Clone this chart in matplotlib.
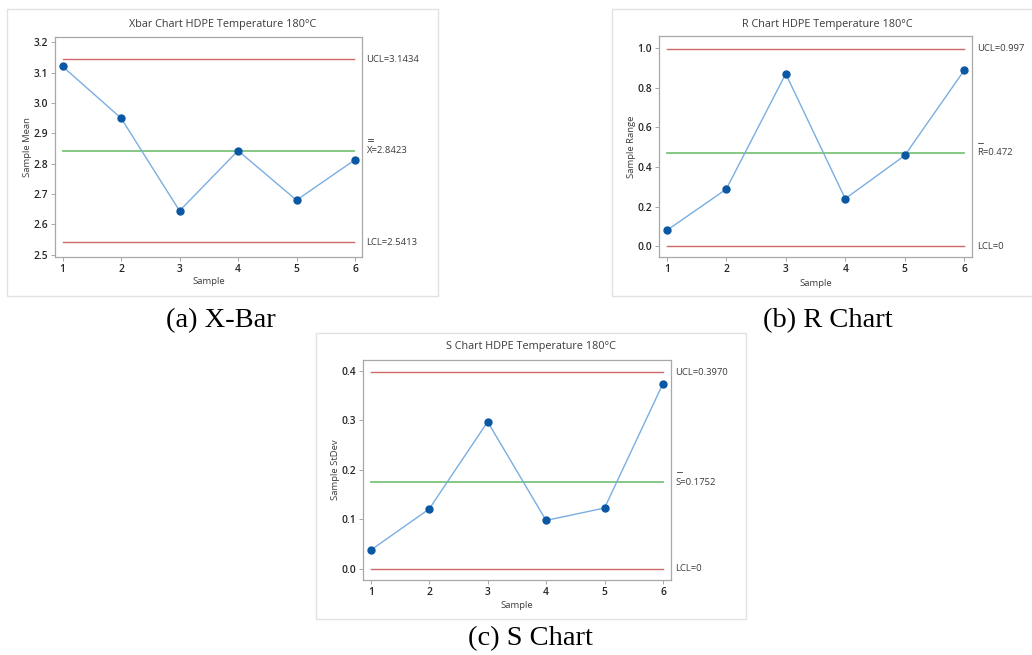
import matplotlib
matplotlib.use("Agg")
import matplotlib.pyplot as plt
from matplotlib.patches import Rectangle
import matplotlib.transforms as mtransforms

plt.rcParams['font.family'] = ['Open Sans', 'DejaVu Sans']

W, H = 1032, 655
DPI = 100

samples = [1, 2, 3, 4, 5, 6]

xbar_values = [3.12, 2.95, 2.645, 2.843, 2.68, 2.813]
xbar_ucl, xbar_cl, xbar_lcl = 3.1434, 2.8423, 2.5413
xbar_ticks = [2.5, 2.6, 2.7, 2.8, 2.9, 3.0, 3.1, 3.2]

r_values = [0.08, 0.288, 0.87, 0.24, 0.458, 0.888]
r_ucl, r_cl, r_lcl = 0.997, 0.472, 0.0
r_ticks = [0.0, 0.2, 0.4, 0.6, 0.8, 1.0]

s_values = [0.038, 0.121, 0.297, 0.098, 0.123, 0.374]
s_ucl, s_cl, s_lcl = 0.3970, 0.1752, 0.0
s_ticks = [0.0, 0.1, 0.2, 0.3, 0.4]

TEXT = '#3c3c3c'
LINE_BLUE = '#7aaee0'
MARK_BLUE = '#0a57a4'
RED = '#cf6a66'
GREEN = '#7cc47c'
SPINE = '#a8a8a8'

fig = plt.figure(figsize=(W / DPI, H / DPI), dpi=DPI)
fig.patch.set_facecolor('white')


def fx(px):
    return px / W


def fy(py):
    return 1 - py / H


def panel_box(x0, y0, x1, y1):
    fig.patches.append(Rectangle((fx(x0), fy(y1)), fx(x1) - fx(x0), fy(y0) - fy(y1),
                                 transform=fig.transFigure, fill=False,
                                 edgecolor='#e2e2e2', linewidth=1.0))


def chart(box, axpx, xlim, ylim, yticks, yfmt, values, ucl, cl, lcl,
          title, ylabel, ucl_txt, cl_sym, cl_bars, cl_txt, lcl_txt,
          title_xy, ylabel_x, xlabel_y):
    panel_box(*box)
    left, top, right, bottom = axpx
    ax_w = right - left
    ax = fig.add_axes([fx(left), fy(bottom), fx(right) - fx(left), fy(top) - fy(bottom)])
    ax.set_xlim(*xlim)
    ax.set_ylim(*ylim)
    for sp in ax.spines.values():
        sp.set_color(SPINE)
        sp.set_linewidth(0.9)
    ax.set_xticks(samples)
    ax.set_yticks(yticks)
    ax.set_yticklabels([yfmt.format(v) for v in yticks])
    ax.tick_params(axis='both', length=3, width=0.7, color=SPINE, labelsize=7.4,
                   labelcolor='#262626', pad=2)
    for lab in ax.get_xticklabels() + ax.get_yticklabels():
        lab.set_fontweight('semibold')

    ax.axhline(ucl, xmin=0.025, xmax=0.975, color=RED, lw=1.0)
    ax.axhline(cl, xmin=0.025, xmax=0.975, color=GREEN, lw=1.3)
    ax.axhline(lcl, xmin=0.025, xmax=0.975, color=RED, lw=1.0)
    ax.plot(samples, values, color=LINE_BLUE, lw=1.0, zorder=3)
    ax.plot(samples, values, 'o', color=MARK_BLUE, ms=5, zorder=4)

    tr = mtransforms.blended_transform_factory(ax.transAxes, ax.transData)
    lx = 1.015
    kw = dict(transform=tr, fontsize=6.8, color=TEXT, va='center', ha='left',
              clip_on=False)
    ax.text(lx, ucl, ucl_txt, **kw)
    ax.text(lx, lcl, lcl_txt, **kw)
    ax.text(lx, cl, cl_sym + cl_txt, **kw)
    # overbars on the centre-line symbol (double for X, single for R and S)
    for i in range(cl_bars):
        off = 7.0 + 1.7 * i
        bar_tr = mtransforms.offset_copy(tr, fig=fig, x=0, y=off, units='points')
        ax.plot([lx + 1.0 / ax_w, lx + 6.0 / ax_w], [cl, cl], color=TEXT,
                lw=0.6, transform=bar_tr, clip_on=False)

    fig.text(fx(title_xy[0]), fy(title_xy[1]), title, fontsize=7.8, color=TEXT,
             ha='center', va='center')
    fig.text(fx(ylabel_x), fy((top + bottom) / 2), ylabel, fontsize=6.8,
             color=TEXT, rotation=90, ha='center', va='center')
    fig.text(fx((left + right) / 2), fy(xlabel_y), 'Sample', fontsize=6.8,
             color=TEXT, ha='center', va='center')
    return ax


chart((7, 9, 438, 296), (55, 37, 362, 257), (0.87, 6.12), (2.493, 3.217),
      xbar_ticks, '{:.1f}', xbar_values, xbar_ucl, xbar_cl, xbar_lcl,
      'Xbar Chart HDPE Temperature 180°C', 'Sample Mean',
      'UCL=3.1434', 'X', 2, '=2.8423', 'LCL=2.5413',
      (223, 24), 28, 282)

chart((612, 9, 1045, 296), (659, 36, 972, 257), (0.87, 6.13), (-0.054, 1.0605),
      r_ticks, '{:.1f}', r_values, r_ucl, r_cl, r_lcl,
      'R Chart HDPE Temperature 180°C', 'Sample Range',
      'UCL=0.997', 'R', 1, '=0.472', 'LCL=0',
      (827, 24), 632, 283)

chart((316, 333, 746, 619), (363, 360, 671, 580), (0.868, 6.137), (-0.0222, 0.4216),
      s_ticks, '{:.1f}', s_values, s_ucl, s_cl, s_lcl,
      'S Chart HDPE Temperature 180°C', 'Sample StDev',
      'UCL=0.3970', 'S', 1, '=0.1752', 'LCL=0',
      (531, 347), 336, 605)

cap = dict(fontsize=20.5, family=['Liberation Serif', 'DejaVu Serif'], color='black',
           ha='center', va='center')
fig.text(fx(221), fy(321), '(a) X-Bar', **cap)
fig.text(fx(828), fy(321), '(b) R Chart', **cap)
fig.text(fx(530), fy(639), '(c) S Chart', **cap)

fig.savefig('out.png', dpi=DPI, facecolor='white')
